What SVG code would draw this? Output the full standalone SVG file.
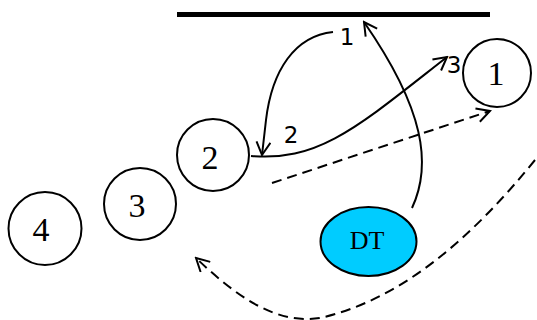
<svg xmlns="http://www.w3.org/2000/svg" width="537" height="320" viewBox="0 0 537 320">
<style>
.node{fill:#fff;stroke:#000;stroke-width:2}
.num{font-family:"Liberation Serif",serif;font-size:34px;text-anchor:middle;fill:#000}
.lbl{font-family:"DejaVu Sans",sans-serif;font-size:23px;text-anchor:middle;fill:#000}
.c{fill:none;stroke:#000;stroke-width:2}
.d{stroke-dasharray:10 6}
</style>
<defs>
<marker id="ah" viewBox="-14 -8 16 16" refX="0" refY="0" markerWidth="16" markerHeight="16" markerUnits="userSpaceOnUse" orient="auto">
<path d="M-13,-7 L0,0 L-13,7" fill="none" stroke="#000" stroke-width="2"/>
</marker>
</defs>
<rect x="177" y="12" width="313" height="5" fill="#000"/>
<g id="n1"><circle class="node" cx="497" cy="73" r="34"/><text class="num" x="496" y="85">1</text></g>
<g id="n2"><circle class="node" cx="213" cy="155" r="36"/><text class="num" x="210" y="169">2</text></g>
<g id="n3"><circle class="node" cx="140" cy="204" r="36"/><text class="num" x="137" y="217">3</text></g>
<g id="n4"><circle class="node" cx="45" cy="228.5" r="36.5"/><text class="num" x="41" y="241">4</text></g>
<g id="dt"><ellipse cx="368.5" cy="241.5" rx="48" ry="34.5" fill="#00CCFF" stroke="#000" stroke-width="2"/><text x="367" y="249" font-family="Liberation Serif,serif" font-size="26" text-anchor="middle">DT</text></g>
<g id="connectors">
<path class="c" d="M333,32 C295,36 272,70 266,120 L262,155" marker-end="url(#ah)"/>
<path class="c" d="M251,156 C320,162 360,125 447,57" marker-end="url(#ah)"/>
<path class="c" d="M412,208 C432,165 425,110 364,22" marker-end="url(#ah)"/>
<path class="c d" d="M272,183 L490,111" marker-end="url(#ah)"/>
<path class="c d" d="M535,160 C470,240 400,300 320,318 C275,325 235,295 196,258" marker-end="url(#ah)"/>
<text class="lbl" x="347" y="45">1</text>
<text class="lbl" x="291" y="143">2</text>
<text class="lbl" x="454" y="73">3</text>
</g>
</svg>
